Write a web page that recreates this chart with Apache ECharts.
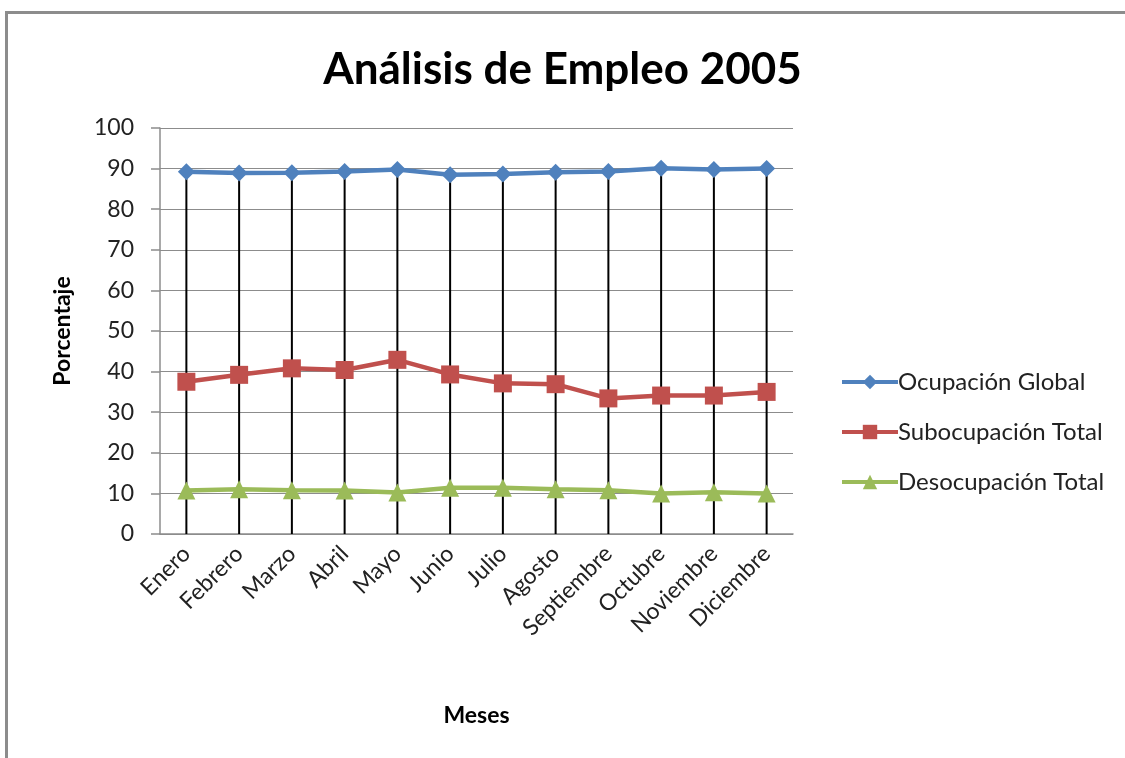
<!DOCTYPE html>
<html>
<head>
<meta charset="utf-8">
<script src="https://cdn.jsdelivr.net/npm/echarts@6/dist/echarts.min.js"></script>
<style>
html,body{margin:0;padding:0;background:#fff;}
#frame{position:absolute;left:5px;top:11px;width:1130px;height:760px;border-top:3px solid #8c8c8c;border-left:3px solid #8c8c8c;box-sizing:border-box;}
#chart{position:absolute;left:0;top:0;width:1125px;height:758px;}
</style>
</head>
<body>
<div id="frame"></div>
<div id="chart"></div>
<script>
var categories = ['Enero','Febrero','Marzo','Abril','Mayo','Junio','Julio','Agosto','Septiembre','Octubre','Noviembre','Diciembre'];
var ocupacionGlobal = [89.2, 88.9, 89.0, 89.3, 89.8, 88.5, 88.7, 89.1, 89.3, 90.1, 89.8, 90.0];
var subocupacionTotal = [37.5, 39.2, 40.8, 40.4, 42.9, 39.3, 37.1, 36.9, 33.4, 34.1, 34.1, 35.0];
var desocupacionTotal = [10.7, 11.0, 10.8, 10.7, 10.2, 11.4, 11.4, 11.0, 10.8, 10.0, 10.3, 10.0];
var yTicks = [0, 10, 20, 30, 40, 50, 60, 70, 80, 90, 100];

var FONT = 'Lato';
var chart = echarts.init(document.getElementById('chart'), null, {renderer: 'canvas'});
chart.setOption({
  backgroundColor: 'transparent',
  animation: false,
  textStyle: {fontFamily: FONT},
  title: {
    text: 'Análisis de Empleo 2005',
    left: 'center',
    top: 43,
    textStyle: {fontFamily: FONT, fontSize: 44, fontWeight: 'bold', color: '#000'}
  },
  legend: {
    orient: 'vertical',
    left: 835,
    top: 365,
    itemWidth: 56,
    itemHeight: 18,
    itemGap: 26,
    data: ['Ocupación Global', 'Subocupación Total', 'Desocupación Total'],
    lineStyle: {width: 4},
    textStyle: {fontFamily: FONT, fontSize: 24, color: '#222', padding: [0, 0, 0, -5]}
  },
  grid: {left: 160, right: 332, top: 128, bottom: 224, containLabel: false},
  xAxis: {
    type: 'category',
    data: categories,
    boundaryGap: true,
    name: 'Meses',
    nameLocation: 'middle',
    nameGap: 170,
    nameTextStyle: {fontFamily: FONT, fontSize: 23, fontWeight: 'bold', color: '#000'},
    axisLine: {lineStyle: {color: '#8c8c8c', width: 1.5}},
    axisTick: {show: false},
    axisLabel: {rotate: 45, fontSize: 23, color: '#222', margin: 16, fontFamily: FONT, interval: 0}
  },
  yAxis: {
    type: 'value',
    min: yTicks[0],
    max: yTicks[yTicks.length - 1],
    interval: 10,
    name: 'Porcentaje',
    nameLocation: 'middle',
    nameGap: 86,
    nameTextStyle: {fontFamily: FONT, fontSize: 23, fontWeight: 'bold', color: '#000'},
    axisLine: {show: true, lineStyle: {color: '#8c8c8c', width: 1.5}},
    axisTick: {show: true, length: 9, lineStyle: {color: '#8c8c8c', width: 1.5}},
    axisLabel: {fontSize: 23, color: '#222', margin: 26, fontFamily: FONT},
    splitLine: {lineStyle: {color: '#8c8c8c', width: 1.2}}
  },
  series: [
    {
      name: 'Líneas de unión',
      type: 'bar',
      data: ocupacionGlobal,
      barWidth: 2,
      itemStyle: {color: '#000'},
      z: 1,
      silent: true,
      legendHoverLink: false
    },
    {
      name: 'Ocupación Global',
      type: 'line',
      data: ocupacionGlobal,
      symbol: 'diamond',
      symbolSize: 17,
      lineStyle: {color: '#4F81BD', width: 4.5},
      itemStyle: {color: '#4F81BD'},
      z: 3
    },
    {
      name: 'Subocupación Total',
      type: 'line',
      data: subocupacionTotal,
      symbol: 'rect',
      symbolSize: 18,
      lineStyle: {color: '#C0504D', width: 4.5},
      itemStyle: {color: '#C0504D'},
      z: 3
    },
    {
      name: 'Desocupación Total',
      type: 'line',
      data: desocupacionTotal,
      symbol: 'triangle',
      symbolSize: 18,
      lineStyle: {color: '#9BBB59', width: 4.5},
      itemStyle: {color: '#9BBB59'},
      z: 3
    }
  ]
});
</script>
</body>
</html>
